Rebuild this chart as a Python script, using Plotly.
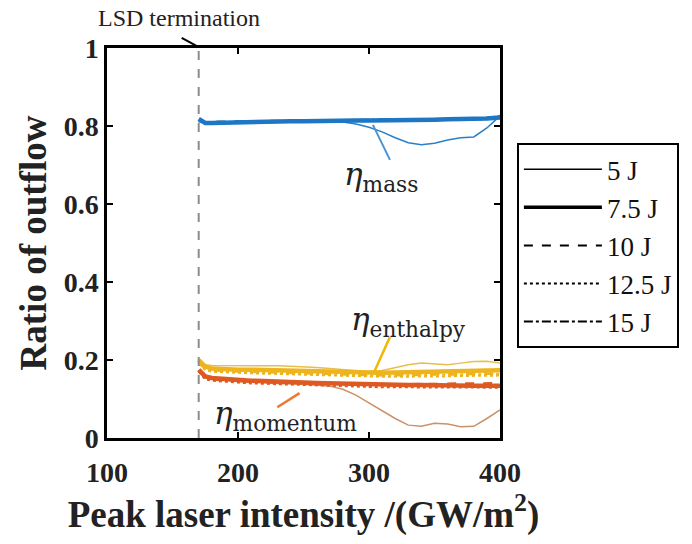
import plotly.graph_objects as go

# ---------------- data ----------------
intensity = [170, 175, 180, 190, 200, 210, 220, 230, 240, 250, 260, 270, 280,
             290, 300, 310, 320, 330, 340, 350, 360, 370, 380, 390, 400]
energies = ["5 J", "7.5 J", "10 J", "12.5 J", "15 J"]
lsd_termination = 170

mass_5 = [0.815, 0.807, 0.808, 0.809, 0.810, 0.810, 0.811, 0.811, 0.812, 0.812, 0.812, 0.812, 0.810,
          0.805, 0.797, 0.785, 0.770, 0.757, 0.752, 0.756, 0.764, 0.770, 0.772, 0.795, 0.826]
mass_75 = [0.818, 0.808, 0.808, 0.809, 0.810, 0.810, 0.811, 0.811, 0.812, 0.812, 0.813, 0.813, 0.813,
           0.814, 0.814, 0.814, 0.815, 0.815, 0.815, 0.816, 0.817, 0.817, 0.818, 0.819, 0.822]
mass_10 = [0.815, 0.810, 0.811, 0.812, 0.812, 0.813, 0.813, 0.814, 0.814, 0.815, 0.815, 0.815, 0.816,
           0.816, 0.816, 0.817, 0.817, 0.818, 0.818, 0.818, 0.819, 0.820, 0.820, 0.821, 0.824]
mass_125 = [0.812, 0.806, 0.806, 0.807, 0.808, 0.809, 0.809, 0.810, 0.811, 0.811, 0.812, 0.812, 0.812,
            0.813, 0.813, 0.813, 0.814, 0.814, 0.815, 0.815, 0.816, 0.816, 0.817, 0.818, 0.821]
mass_15 = [0.816, 0.807, 0.808, 0.810, 0.811, 0.811, 0.812, 0.812, 0.813, 0.814, 0.814, 0.814, 0.815,
           0.815, 0.816, 0.816, 0.816, 0.817, 0.817, 0.818, 0.818, 0.819, 0.819, 0.821, 0.826]

enth_5 = [0.198, 0.188, 0.186, 0.186, 0.186, 0.186, 0.185, 0.185, 0.184, 0.183, 0.181, 0.178, 0.175,
          0.172, 0.170, 0.173, 0.180, 0.188, 0.192, 0.190, 0.188, 0.192, 0.196, 0.197, 0.192]
enth_75 = [0.200, 0.183, 0.178, 0.176, 0.175, 0.175, 0.174, 0.174, 0.173, 0.172, 0.171, 0.170, 0.169,
           0.167, 0.166, 0.167, 0.168, 0.169, 0.170, 0.171, 0.172, 0.172, 0.173, 0.173, 0.174]
enth_10 = [0.195, 0.180, 0.176, 0.174, 0.173, 0.172, 0.171, 0.170, 0.169, 0.168, 0.167, 0.165, 0.164,
           0.163, 0.162, 0.162, 0.162, 0.163, 0.163, 0.164, 0.164, 0.165, 0.165, 0.166, 0.166]
enth_125 = [0.190, 0.174, 0.170, 0.168, 0.167, 0.166, 0.165, 0.164, 0.163, 0.162, 0.161, 0.160, 0.159,
            0.158, 0.157, 0.157, 0.157, 0.157, 0.158, 0.158, 0.158, 0.159, 0.159, 0.159, 0.160]
enth_15 = [0.192, 0.177, 0.173, 0.171, 0.170, 0.169, 0.168, 0.167, 0.166, 0.165, 0.164, 0.163, 0.162,
           0.161, 0.160, 0.160, 0.160, 0.161, 0.161, 0.162, 0.162, 0.163, 0.163, 0.164, 0.164]

mom_5 = [0.172, 0.155, 0.150, 0.147, 0.145, 0.143, 0.141, 0.140, 0.139, 0.138, 0.136, 0.133, 0.125,
         0.110, 0.090, 0.070, 0.050, 0.033, 0.030, 0.038, 0.036, 0.029, 0.030, 0.050, 0.072]
mom_75 = [0.175, 0.158, 0.154, 0.151, 0.149, 0.147, 0.146, 0.144, 0.143, 0.142, 0.141, 0.140, 0.139,
          0.138, 0.137, 0.137, 0.136, 0.136, 0.136, 0.135, 0.135, 0.135, 0.134, 0.134, 0.134]
mom_10 = [0.172, 0.153, 0.150, 0.147, 0.146, 0.144, 0.143, 0.142, 0.141, 0.140, 0.139, 0.139, 0.138,
          0.138, 0.138, 0.138, 0.138, 0.139, 0.139, 0.139, 0.140, 0.140, 0.140, 0.141, 0.141]
mom_125 = [0.170, 0.150, 0.147, 0.144, 0.142, 0.140, 0.139, 0.137, 0.136, 0.135, 0.134, 0.133, 0.132,
           0.131, 0.131, 0.130, 0.130, 0.130, 0.130, 0.129, 0.129, 0.129, 0.129, 0.129, 0.129]
mom_15 = [0.173, 0.156, 0.152, 0.149, 0.147, 0.145, 0.144, 0.143, 0.142, 0.141, 0.140, 0.139, 0.138,
          0.137, 0.136, 0.136, 0.135, 0.135, 0.135, 0.134, 0.134, 0.134, 0.133, 0.133, 0.133]

x_ticks = [100, 200, 300, 400]
y_ticks = [0, 0.2, 0.4, 0.6, 0.8, 1]
y_tick_text = ["0", "0.2", "0.4", "0.6", "0.8", "1"]

# ---------------- styles ----------------
serif = "Liberation Serif"
math_font = "DejaVu Serif"
styles = {  # energy -> (width, dash)
    "5 J": (1.5, "solid"),
    "7.5 J": (4.5, "solid"),
    "10 J": (2, "dash"),
    "12.5 J": (2, "dot"),
    "15 J": (2, "dashdot"),
}
groups = [
    ("mass", [mass_5, mass_75, mass_10, mass_125, mass_15], "#2a80c6", "#1f77c4"),
    ("enthalpy", [enth_5, enth_75, enth_10, enth_125, enth_15], "#e8bf4a", "#eeb41e"),
    ("momentum", [mom_5, mom_75, mom_10, mom_125, mom_15], "#c9926a", "#de5a22"),
]

fig = go.Figure()
for name, series, thin_color, color in groups:
    for e, ys in zip(energies, series):
        w, d = styles[e]
        fig.add_trace(go.Scatter(
            x=intensity, y=ys, mode="lines",
            line=dict(color=thin_color if e == "5 J" else color, width=w, dash=d),
            showlegend=False, hoverinfo="skip"))

# legend entries (black)
for e in energies:
    w, d = styles[e]
    fig.add_trace(go.Scatter(x=[None], y=[None], mode="lines", name=e,
                             line=dict(color="black", width=min(w, 3.5), dash=d)))

# LSD termination line
fig.add_shape(type="line", x0=lsd_termination, x1=lsd_termination, y0=0, y1=1,
              xref="x", yref="y", line=dict(color="#8c8c8c", width=2, dash="dash"))
fig.add_shape(type="line", x0=157, x1=169, y0=1.026, y1=1.004,
              xref="x", yref="paper", line=dict(color="black", width=2))
fig.add_annotation(text="LSD termination", x=155, y=1.078, xref="x", yref="paper",
                   yanchor="middle", showarrow=False,
                   font=dict(family=serif, size=24, color="#222"))

# labels with pointer lines
fig.add_shape(type="line", x0=303, y0=0.803, x1=316, y1=0.713, xref="x", yref="y",
              line=dict(color="#4a95d3", width=2))
fig.add_annotation(text="<i>η</i><sub>mass</sub>", x=309, y=0.67, showarrow=False,
                   font=dict(family=math_font, size=31, color="#222"))
fig.add_shape(type="line", x0=316, y0=0.259, x1=303, y1=0.162, xref="x", yref="y",
              line=dict(color="#f2b705", width=2.5))
fig.add_annotation(text="<i>η</i><sub>enthalpy</sub>", x=330, y=0.30, showarrow=False,
                   font=dict(family=math_font, size=31, color="#222"))
fig.add_shape(type="line", x0=230, y0=0.079, x1=247, y1=0.115, xref="x", yref="y",
              line=dict(color="#ec7a34", width=2.5))
fig.add_annotation(text="<i>η</i><sub>momentum</sub>", x=236, y=0.058, showarrow=False,
                   font=dict(family=math_font, size=31, color="#222"))

axis_common = dict(showline=True, linecolor="black", linewidth=2.5, mirror="ticks",
                   ticks="inside", ticklen=6, tickwidth=2, tickcolor="black",
                   showgrid=False, zeroline=False,
                   tickfont=dict(family=serif, size=28, color="#222", weight="bold"))

fig.update_xaxes(range=[100, 400], tickvals=x_ticks, ticklabelstandoff=8,
                 title=dict(text="Peak laser intensity /(GW/m<sup>2</sup>)",
                            font=dict(family=serif, size=37, color="#222", weight="bold"),
                            standoff=4),
                 **axis_common)
fig.update_yaxes(range=[0, 1], tickvals=y_ticks, ticktext=y_tick_text,
                 title=dict(text="Ratio of outflow",
                            font=dict(family=serif, size=37, color="#222", weight="bold"),
                            standoff=6),
                 **axis_common)

fig.update_layout(
    width=692, height=544,
    margin=dict(l=107, r=192, t=48, b=106),
    plot_bgcolor="white", paper_bgcolor="white",
    legend=dict(x=1.043, y=0.756, xanchor="left", yanchor="top",
                bordercolor="black", borderwidth=2, bgcolor="white",
                font=dict(family=serif, size=27, color="#111"),
                itemwidth=78, tracegroupgap=0),
)

fig.write_html("out.html")
